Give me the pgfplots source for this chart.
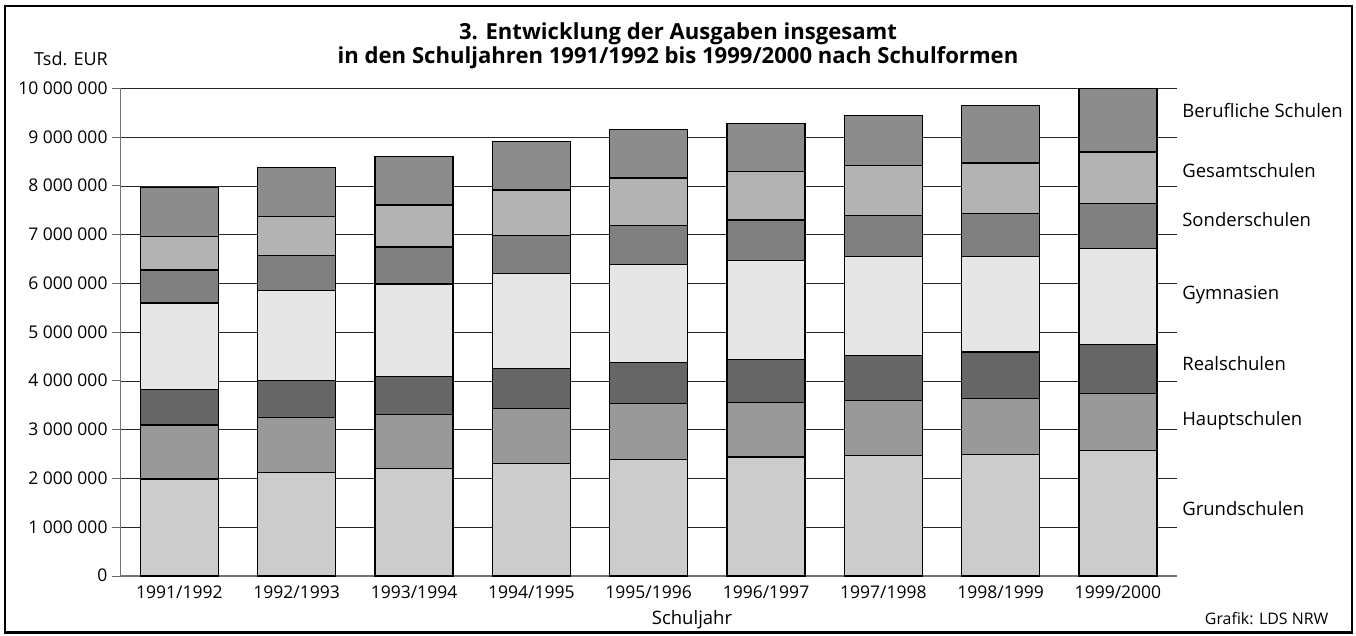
\documentclass[border=0pt]{standalone}
\usepackage{pgfplots}
\pgfplotsset{compat=1.18}
\usepackage{pgfplotstable}
\usepackage{fontspec}
\setmainfont{Open Sans}
\definecolor{cgrund}{RGB}{204,204,204}
\definecolor{chaupt}{RGB}{153,153,153}
\definecolor{creal}{RGB}{102,102,102}
\definecolor{cgym}{RGB}{230,230,230}
\definecolor{csonder}{RGB}{128,128,128}
\definecolor{cgesamt}{RGB}{179,179,179}
\definecolor{cberuf}{RGB}{140,140,140}
\pgfplotstableread{
x grund haupt real gym sonder gesamt beruf
0 1990000 1107000 733000 1770000 677000 691000 997000
1 2127000 1121000 766000 1846000 718000 793000 1005000
2 2201000 1115000 780000 1894000 759000 861000 999000
3 2309000 1130000 819000 1943000 783000 933000 988000
4 2387000 1144000 848000 2005000 798000 982000 996000
5 2443000 1123000 876000 2027000 833000 989000 996000
6 2475000 1127000 922000 2023000 853000 1024000 1028000
7 2500000 1137000 959000 1964000 873000 1038000 1181000
8 2582000 1158000 1013000 1964000 921000 1058000 1311000
}\schooldata
\newcommand{\ticksfont}{\fontsize{17.5}{20}\selectfont}
\newcommand{\labfont}{\fontsize{18.5}{21}\selectfont}
\tikzset{rlab/.style={font=\labfont, anchor=base west, inner sep=0pt, xshift=5.5pt}}
\begin{document}
\begin{tikzpicture}[x=1pt,y=1pt]
\path[use as bounding box] (0pt,0pt) rectangle (1356pt,635pt);
\draw[line width=2.5pt] (5pt,2.5pt) rectangle (1352pt,629pt);
\begin{axis}[
  at={(120.7pt,59pt)}, anchor=south west,
  scale only axis, width=1056pt, height=487.5pt,
  xmin=-0.5, xmax=8.5, ymin=0, ymax=10000000,
  ybar stacked, bar width=78pt,
  axis x line*=bottom, axis y line*=left,
  axis line style={black!55, line width=1.3pt},
  xtick={0,...,8},
  xticklabels={1991/1992,1992/1993,1993/1994,1994/1995,1995/1996,1996/1997,1997/1998,1998/1999,1999/2000},
  xtick style={draw=none},
  xticklabel style={font=\ticksfont, anchor=base, yshift=-13.5pt},
  scaled y ticks=false,
  ytick={0,1000000,2000000,3000000,4000000,5000000,6000000,7000000,8000000,9000000,10000000},
  yticklabels={0,1 000 000,2 000 000,3 000 000,4 000 000,5 000 000,6 000 000,7 000 000,8 000 000,9 000 000,10 000 000},
  yticklabel style={font=\ticksfont, anchor=base east, inner sep=0pt, yshift=-5.9pt, xshift=-4pt},
  tick align=outside, major tick length=9pt,
  ytick style={black!60, line width=1pt},
  ymajorgrids, grid style={black!85, line width=0.9pt},
  clip=false,
]
\addplot[draw=black, line width=1.2pt, fill=cgrund] table[x=x,y=grund]{\schooldata};
\addplot[draw=black, line width=1.2pt, fill=chaupt] table[x=x,y=haupt]{\schooldata};
\addplot[draw=black, line width=1.2pt, fill=creal] table[x=x,y=real]{\schooldata};
\addplot[draw=black, line width=1.2pt, fill=cgym] table[x=x,y=gym]{\schooldata};
\addplot[draw=black, line width=1.2pt, fill=csonder] table[x=x,y=sonder]{\schooldata};
\addplot[draw=black, line width=1.2pt, fill=cgesamt] table[x=x,y=gesamt]{\schooldata};
\addplot[draw=black, line width=1.2pt, fill=cberuf] table[x=x,y=beruf]{\schooldata};
\node[rlab] at (axis cs:8.5,9415000) {Berufliche Schulen};
\node[rlab] at (axis cs:8.5,8178000) {Gesamtschulen};
\node[rlab] at (axis cs:8.5,7165000) {Sonderschulen};
\node[rlab] at (axis cs:8.5,5682000) {Gymnasien};
\node[rlab] at (axis cs:8.5,4211000) {Realschulen};
\node[rlab] at (axis cs:8.5,3077000) {Hauptschulen};
\node[rlab] at (axis cs:8.5,1231000) {Grundschulen};
\end{axis}
\node[font=\fontsize{22.1}{26}\selectfont\bfseries, anchor=base, inner sep=0pt] at (678pt,595pt) {3. Entwicklung der Ausgaben insgesamt};
\node[font=\fontsize{22.1}{26}\selectfont\bfseries, anchor=base, inner sep=0pt] at (678pt,571pt) {in den Schuljahren 1991/1992 bis 1999/2000 nach Schulformen};
\node[font=\fontsize{18}{21}\selectfont, anchor=base east, inner sep=0pt] at (108pt,569pt) {Tsd. EUR};
\node[font=\labfont, anchor=base, inner sep=0pt] at (692pt,10.5pt) {Schuljahr};
\node[font=\fontsize{15.9}{18}\selectfont, anchor=base east, inner sep=0pt] at (1328.5pt,10.5pt) {Grafik: LDS NRW};
\end{tikzpicture}
\end{document}
